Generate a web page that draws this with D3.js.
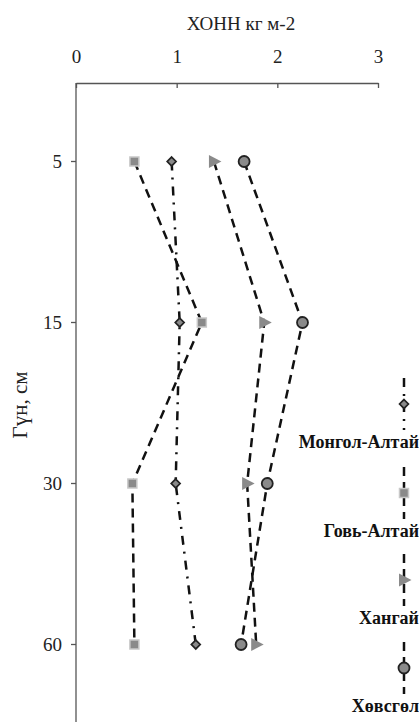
<!DOCTYPE html>
<html>
<head>
<meta charset="utf-8">
<script src="https://cdn.jsdelivr.net/npm/d3@7"></script>
<style>
  body { margin: 0; background: #fff; }
</style>
</head>
<body>
<div id="chart"></div>
<script>
// depth categories and values (ХОНН, kg m-2)
const depths = ["5", "15", "30", "60"];
const xTicks = [0, 1, 2, 3];
const regions = ["Монгол-Алтай", "Говь-Алтай", "Хангай", "Хөвсгөл"];
const mongolAltai = [0.95, 1.03, 0.99, 1.19];
const gobiAltai = [0.58, 1.25, 0.56, 0.58];
const khangai = [1.37, 1.87, 1.70, 1.79];
const khuvsgul = [1.67, 2.25, 1.90, 1.64];

const width = 419, height = 722;
const plotLeft = 76, plotRight = 378, plotTop = 83;
const serif = "Liberation Serif";

const svg = d3.select("#chart").append("svg")
  .attr("width", width)
  .attr("height", height)
  .attr("font-family", serif);

const x = d3.scaleLinear().domain([0, 3]).range([plotLeft, plotRight]);
const y = d3.scaleBand().domain(depths).range([plotTop - 2, plotTop - 2 + 161 * 4]);
const yc = d => y(d) + y.bandwidth() / 2;

// top axis
const xAxis = d3.axisTop(x).tickValues(xTicks).tickFormat(d3.format("d"))
  .tickSize(-5).tickPadding(20).tickSizeOuter(0);
const gx = svg.append("g")
  .attr("transform", `translate(0,${plotTop})`)
  .call(xAxis)
  .attr("font-family", serif)
  .attr("font-size", 19);
gx.select(".domain").attr("stroke", "#555").attr("stroke-width", 1.3);
gx.selectAll(".tick line").attr("stroke", "#555").attr("stroke-width", 1.3);
gx.selectAll(".tick text").attr("fill", "#222");

// left axis
svg.append("line")
  .attr("x1", plotLeft).attr("x2", plotLeft)
  .attr("y1", plotTop).attr("y2", height)
  .attr("stroke", "#555").attr("stroke-width", 1.3);
const yAxis = d3.axisLeft(y).tickSize(5).tickPadding(9).tickSizeOuter(0);
const gy = svg.append("g")
  .attr("transform", `translate(${plotLeft},0)`)
  .call(yAxis)
  .attr("font-family", serif)
  .attr("font-size", 19);
gy.select(".domain").remove();
gy.selectAll(".tick line").attr("stroke", "#555").attr("stroke-width", 1.3);
gy.selectAll(".tick text").attr("fill", "#222");

// titles
svg.append("text")
  .attr("x", 241).attr("y", 30)
  .attr("text-anchor", "middle")
  .attr("font-size", 19).attr("fill", "#222")
  .text("ХОНН кг м-2");

svg.append("text")
  .attr("transform", "translate(27,405) rotate(-90)")
  .attr("text-anchor", "middle")
  .attr("font-size", 21).attr("fill", "#222")
  .text("Гүн, см");

// markers
const gray = "#8a8a8a";
function marker(g, type, cx, cy) {
  if (type === "square") {
    g.append("rect")
      .attr("x", cx - 4.5).attr("y", cy - 4.5).attr("width", 9).attr("height", 9)
      .attr("fill", gray).attr("stroke", "#c8c8c8").attr("stroke-width", 1.5);
  } else if (type === "diamond") {
    g.append("path")
      .attr("d", d3.symbol(d3.symbolDiamond2, 50)())
      .attr("transform", `translate(${cx},${cy})`)
      .attr("fill", gray).attr("stroke", "#222").attr("stroke-width", 1.7);
  } else if (type === "triangle") {
    g.append("path")
      .attr("d", `M${cx - 5},${cy - 6.5}L${cx + 7.5},${cy}L${cx - 5},${cy + 6.5}Z`)
      .attr("fill", gray);
  } else {
    g.append("circle")
      .attr("cx", cx).attr("cy", cy).attr("r", 5.5)
      .attr("fill", gray).attr("stroke", "#222").attr("stroke-width", 1.8);
  }
}

const series = [
  { name: regions[0], values: mongolAltai, type: "diamond", dash: "9,7,2,7" },
  { name: regions[1], values: gobiAltai, type: "square", dash: "9,6" },
  { name: regions[2], values: khangai, type: "triangle", dash: "9,6" },
  { name: regions[3], values: khuvsgul, type: "circle", dash: "9,6" }
];

const line = d3.line().x(d => x(d.v)).y(d => yc(d.d));

series.forEach(s => {
  const pts = depths.map((d, i) => ({ d: d, v: s.values[i] }));
  svg.append("path")
    .datum(pts)
    .attr("d", line)
    .attr("fill", "none")
    .attr("stroke", "#111")
    .attr("stroke-width", 2.5)
    .attr("stroke-dasharray", s.dash);
  const g = svg.append("g");
  pts.forEach(p => marker(g, s.type, x(p.v), yc(p.d)));
});

// legend
const lx = 404;
const legY = [404, 493, 580, 668];
series.forEach((s, i) => {
  const cy = legY[i];
  svg.append("line")
    .attr("x1", lx).attr("x2", lx)
    .attr("y1", cy - 26).attr("y2", cy + 26)
    .attr("stroke", "#111").attr("stroke-width", 2.5)
    .attr("stroke-dasharray", s.dash);
  marker(svg, s.type, lx, cy);
  svg.append("text")
    .attr("x", 419).attr("y", cy + 44)
    .attr("text-anchor", "end")
    .attr("font-size", 18).attr("font-weight", "bold").attr("fill", "#111")
    .text(s.name);
});
</script>
</body>
</html>
